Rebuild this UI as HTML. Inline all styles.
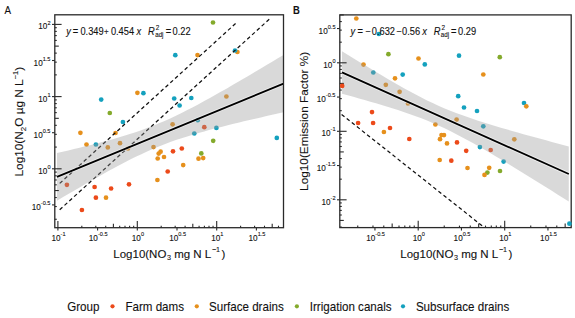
<!DOCTYPE html><html><head><meta charset="utf-8"><style>html,body{margin:0;padding:0;background:#fff;}svg{display:block;}text{font-family:"Liberation Sans", sans-serif;fill:#111;stroke:#111;stroke-width:0.1px;}</style></head><body>
<svg width="575" height="318" viewBox="0 0 575 318">
<rect x="0" y="0" width="575" height="318" fill="#fff"/>
<clipPath id="c54"><rect x="54.8" y="14.8" width="228.7" height="212.89999999999998"/></clipPath>
<g clip-path="url(#c54)">
<circle cx="213.0" cy="22.5" r="2.35" fill="#84AA2C"/>
<circle cx="237.4" cy="52.0" r="2.35" fill="#E6901C"/>
<circle cx="235.0" cy="50.5" r="2.35" fill="#14A1BE"/>
<circle cx="197.5" cy="55.1" r="2.35" fill="#E6901C"/>
<circle cx="175.3" cy="55.2" r="2.35" fill="#14A1BE"/>
<circle cx="137.4" cy="92.8" r="2.35" fill="#E6901C"/>
<circle cx="143.4" cy="93.2" r="2.35" fill="#14A1BE"/>
<circle cx="101.2" cy="99.6" r="2.35" fill="#14A1BE"/>
<circle cx="174.2" cy="98.5" r="2.35" fill="#14A1BE"/>
<circle cx="191.3" cy="98.0" r="2.35" fill="#14A1BE"/>
<circle cx="179.6" cy="105.5" r="2.35" fill="#14A1BE"/>
<circle cx="109.8" cy="113.0" r="2.35" fill="#84AA2C"/>
<circle cx="122.9" cy="122.0" r="2.35" fill="#14A1BE"/>
<circle cx="80.4" cy="132.8" r="2.35" fill="#E6901C"/>
<circle cx="115.5" cy="133.0" r="2.35" fill="#E6901C"/>
<circle cx="86.5" cy="144.5" r="2.35" fill="#E6901C"/>
<circle cx="95.9" cy="144.5" r="2.35" fill="#14A1BE"/>
<circle cx="107.8" cy="147.4" r="2.35" fill="#E6901C"/>
<circle cx="120.0" cy="143.2" r="2.35" fill="#E6901C"/>
<circle cx="128.0" cy="148.5" r="2.35" fill="#E6901C"/>
<circle cx="172.6" cy="124.3" r="2.35" fill="#E6901C"/>
<circle cx="197.7" cy="120.2" r="2.35" fill="#14A1BE"/>
<circle cx="204.3" cy="127.2" r="2.35" fill="#EC4A1A"/>
<circle cx="194.3" cy="133.5" r="2.35" fill="#14A1BE"/>
<circle cx="216.4" cy="127.9" r="2.35" fill="#14A1BE"/>
<circle cx="226.4" cy="96.5" r="2.35" fill="#E6901C"/>
<circle cx="276.8" cy="137.9" r="2.35" fill="#14A1BE"/>
<circle cx="213.2" cy="140.8" r="2.35" fill="#84AA2C"/>
<circle cx="201.3" cy="153.4" r="2.35" fill="#84AA2C"/>
<circle cx="198.5" cy="158.7" r="2.35" fill="#E6901C"/>
<circle cx="203.2" cy="158.1" r="2.35" fill="#E6901C"/>
<circle cx="153.5" cy="147.1" r="2.35" fill="#E6901C"/>
<circle cx="160.6" cy="151.7" r="2.35" fill="#E6901C"/>
<circle cx="158.7" cy="153.6" r="2.35" fill="#E6901C"/>
<circle cx="157.7" cy="158.5" r="2.35" fill="#E6901C"/>
<circle cx="164.0" cy="157.0" r="2.35" fill="#E6901C"/>
<circle cx="173.0" cy="151.3" r="2.35" fill="#EC4A1A"/>
<circle cx="181.8" cy="148.5" r="2.35" fill="#EC4A1A"/>
<circle cx="183.2" cy="165.1" r="2.35" fill="#E6901C"/>
<circle cx="167.7" cy="171.5" r="2.35" fill="#EC4A1A"/>
<circle cx="157.4" cy="180.0" r="2.35" fill="#E6901C"/>
<circle cx="129.0" cy="184.3" r="2.35" fill="#EC4A1A"/>
<circle cx="66.9" cy="184.8" r="2.35" fill="#EC4A1A"/>
<circle cx="94.6" cy="187.0" r="2.35" fill="#EC4A1A"/>
<circle cx="111.1" cy="188.5" r="2.35" fill="#EC4A1A"/>
<circle cx="95.9" cy="197.7" r="2.35" fill="#EC4A1A"/>
<circle cx="106.0" cy="197.7" r="2.35" fill="#E6901C"/>
<circle cx="81.9" cy="210.0" r="2.35" fill="#EC4A1A"/>
<line x1="59.7" y1="183.41" x2="237.2" y2="22.00" stroke="#111" stroke-width="1.25" stroke-dasharray="3.7 2.8"/>
<line x1="59.7" y1="209.76" x2="271.2" y2="17.44" stroke="#111" stroke-width="1.25" stroke-dasharray="3.7 2.8"/>
<path d="M57.00,153.10 L62.66,151.79 L68.33,150.46 L73.99,149.12 L79.65,147.75 L85.31,146.37 L90.97,144.95 L96.64,143.50 L102.30,142.02 L107.96,140.49 L113.62,138.91 L119.29,137.28 L124.95,135.57 L130.61,133.79 L136.28,131.92 L141.94,129.95 L147.60,127.87 L153.26,125.68 L158.93,123.37 L164.59,120.94 L170.25,118.39 L175.91,115.73 L181.57,112.97 L187.24,110.12 L192.90,107.19 L198.56,104.18 L204.22,101.11 L209.89,97.99 L215.55,94.83 L221.21,91.62 L226.88,88.38 L232.54,85.11 L238.20,81.82 L243.86,78.51 L249.53,75.17 L255.19,71.82 L260.85,68.46 L266.51,65.08 L272.18,61.69 L277.84,58.29 L283.50,54.89 L283.50,112.31 L277.84,113.57 L272.18,114.84 L266.51,116.11 L260.85,117.40 L255.19,118.70 L249.53,120.02 L243.86,121.35 L238.20,122.70 L232.54,124.07 L226.88,125.47 L221.21,126.89 L215.55,128.35 L209.89,129.85 L204.22,131.40 L198.56,132.99 L192.90,134.65 L187.24,136.39 L181.57,138.20 L175.91,140.10 L170.25,142.11 L164.59,144.23 L158.93,146.46 L153.26,148.82 L147.60,151.29 L141.94,153.88 L136.28,156.57 L130.61,159.37 L124.95,162.25 L119.29,165.21 L113.62,168.24 L107.96,171.32 L102.30,174.46 L96.64,177.64 L90.97,180.86 L85.31,184.11 L79.65,187.39 L73.99,190.69 L68.33,194.01 L62.66,197.35 L57.00,200.70Z" fill="#999" fill-opacity="0.37"/>
<line x1="57.0" y1="176.90" x2="283.5" y2="83.60" stroke="#fff" stroke-opacity="0.55" stroke-width="3.6"/>
<line x1="57.0" y1="176.90" x2="283.5" y2="83.60" stroke="#000" stroke-width="1.8"/>
</g>
<g font-size="9.3"><text x="66.2" y="35.4" font-style="italic" transform="matrix(1 0 0 1.08 0 -2.832)">y</text><text x="72.8" y="35.4" transform="matrix(1 0 0 1.08 0 -2.832)">=</text><text x="80.4" y="35.4" transform="matrix(1 0 0 1.08 0 -2.832)">0.349</text><text x="104.0" y="34.9" font-size="8" transform="matrix(1 0 0 1.08 0 -2.792)">+</text><text x="110.9" y="35.4" transform="matrix(1 0 0 1.08 0 -2.832)">0.454</text><text x="136.6" y="35.4" font-style="italic" transform="matrix(1 0 0 1.08 0 -2.832)">x</text><text x="148.0" y="35.4" font-style="italic" transform="matrix(1 0 0 1.08 0 -2.832)">R</text><text x="155.8" y="30.0" font-size="6.4" transform="matrix(1 0 0 1.08 0 -2.400)">2</text><text x="155.2" y="37.0" font-size="6.2" transform="matrix(1 0 0 1.08 0 -2.960)">adj</text><text x="165.8" y="35.4" transform="matrix(1 0 0 1.08 0 -2.832)">=</text><text x="172.6" y="35.4" transform="matrix(1 0 0 1.08 0 -2.832)">0.22</text></g>
<g stroke="#2a2a2a" stroke-width="1.1" fill="none">
<rect x="54.8" y="14.8" width="228.70" height="212.90" stroke-width="1.3"/>
<line x1="54.80" y1="219.27" x2="56.80" y2="219.27"/>
<line x1="54.80" y1="206.55" x2="56.80" y2="206.55"/>
<line x1="54.80" y1="197.53" x2="56.80" y2="197.53"/>
<line x1="54.80" y1="190.53" x2="58.80" y2="190.53"/>
<line x1="54.80" y1="184.82" x2="56.80" y2="184.82"/>
<line x1="54.80" y1="179.98" x2="56.80" y2="179.98"/>
<line x1="54.80" y1="175.80" x2="56.80" y2="175.80"/>
<line x1="54.80" y1="172.10" x2="56.80" y2="172.10"/>
<line x1="54.80" y1="168.80" x2="61.60" y2="168.80"/>
<line x1="54.80" y1="147.07" x2="56.80" y2="147.07"/>
<line x1="54.80" y1="134.35" x2="56.80" y2="134.35"/>
<line x1="54.80" y1="125.33" x2="56.80" y2="125.33"/>
<line x1="54.80" y1="118.33" x2="58.80" y2="118.33"/>
<line x1="54.80" y1="112.62" x2="56.80" y2="112.62"/>
<line x1="54.80" y1="107.78" x2="56.80" y2="107.78"/>
<line x1="54.80" y1="103.60" x2="56.80" y2="103.60"/>
<line x1="54.80" y1="99.90" x2="56.80" y2="99.90"/>
<line x1="54.80" y1="96.60" x2="61.60" y2="96.60"/>
<line x1="54.80" y1="74.87" x2="56.80" y2="74.87"/>
<line x1="54.80" y1="62.15" x2="56.80" y2="62.15"/>
<line x1="54.80" y1="53.13" x2="56.80" y2="53.13"/>
<line x1="54.80" y1="46.13" x2="58.80" y2="46.13"/>
<line x1="54.80" y1="40.42" x2="56.80" y2="40.42"/>
<line x1="54.80" y1="35.58" x2="56.80" y2="35.58"/>
<line x1="54.80" y1="31.40" x2="56.80" y2="31.40"/>
<line x1="54.80" y1="27.70" x2="56.80" y2="27.70"/>
<line x1="54.80" y1="24.40" x2="61.60" y2="24.40"/>
<line x1="52.00" y1="204.90" x2="54.80" y2="204.90"/>
<line x1="52.00" y1="168.80" x2="54.80" y2="168.80"/>
<line x1="52.00" y1="132.70" x2="54.80" y2="132.70"/>
<line x1="52.00" y1="96.60" x2="54.80" y2="96.60"/>
<line x1="52.00" y1="60.50" x2="54.80" y2="60.50"/>
<line x1="52.00" y1="24.40" x2="54.80" y2="24.40"/>
<line x1="57.90" y1="227.70" x2="57.90" y2="220.90"/>
<line x1="81.80" y1="227.70" x2="81.80" y2="225.70"/>
<line x1="95.78" y1="227.70" x2="95.78" y2="225.70"/>
<line x1="105.70" y1="227.70" x2="105.70" y2="225.70"/>
<line x1="113.40" y1="227.70" x2="113.40" y2="223.70"/>
<line x1="119.69" y1="227.70" x2="119.69" y2="225.70"/>
<line x1="125.00" y1="227.70" x2="125.00" y2="225.70"/>
<line x1="129.61" y1="227.70" x2="129.61" y2="225.70"/>
<line x1="133.67" y1="227.70" x2="133.67" y2="225.70"/>
<line x1="137.30" y1="227.70" x2="137.30" y2="220.90"/>
<line x1="161.20" y1="227.70" x2="161.20" y2="225.70"/>
<line x1="175.18" y1="227.70" x2="175.18" y2="225.70"/>
<line x1="185.10" y1="227.70" x2="185.10" y2="225.70"/>
<line x1="192.80" y1="227.70" x2="192.80" y2="223.70"/>
<line x1="199.09" y1="227.70" x2="199.09" y2="225.70"/>
<line x1="204.40" y1="227.70" x2="204.40" y2="225.70"/>
<line x1="209.01" y1="227.70" x2="209.01" y2="225.70"/>
<line x1="213.07" y1="227.70" x2="213.07" y2="225.70"/>
<line x1="216.70" y1="227.70" x2="216.70" y2="220.90"/>
<line x1="240.60" y1="227.70" x2="240.60" y2="225.70"/>
<line x1="254.58" y1="227.70" x2="254.58" y2="225.70"/>
<line x1="264.50" y1="227.70" x2="264.50" y2="225.70"/>
<line x1="272.20" y1="227.70" x2="272.20" y2="223.70"/>
<line x1="278.49" y1="227.70" x2="278.49" y2="225.70"/>
<line x1="57.90" y1="230.50" x2="57.90" y2="227.70"/>
<line x1="97.60" y1="230.50" x2="97.60" y2="227.70"/>
<line x1="137.30" y1="230.50" x2="137.30" y2="227.70"/>
<line x1="177.00" y1="230.50" x2="177.00" y2="227.70"/>
<line x1="216.70" y1="230.50" x2="216.70" y2="227.70"/>
<line x1="256.40" y1="230.50" x2="256.40" y2="227.70"/>
</g>
<text x="50.50" y="210.00" text-anchor="end" font-size="8.2" transform="matrix(1 0 0 1.08 0 -16.800)">10<tspan font-size="5.6" dy="-4.6">-0.5</tspan></text>
<text x="50.50" y="173.90" text-anchor="end" font-size="8.2" transform="matrix(1 0 0 1.08 0 -13.912)">10<tspan font-size="5.6" dy="-4.6">0</tspan></text>
<text x="50.50" y="137.80" text-anchor="end" font-size="8.2" transform="matrix(1 0 0 1.08 0 -11.024)">10<tspan font-size="5.6" dy="-4.6">0.5</tspan></text>
<text x="50.50" y="101.70" text-anchor="end" font-size="8.2" transform="matrix(1 0 0 1.08 0 -8.136)">10<tspan font-size="5.6" dy="-4.6">1</tspan></text>
<text x="50.50" y="65.60" text-anchor="end" font-size="8.2" transform="matrix(1 0 0 1.08 0 -5.248)">10<tspan font-size="5.6" dy="-4.6">1.5</tspan></text>
<text x="50.50" y="29.50" text-anchor="end" font-size="8.2" transform="matrix(1 0 0 1.08 0 -2.360)">10<tspan font-size="5.6" dy="-4.6">2</tspan></text>
<text x="58.50" y="241.2" text-anchor="middle" font-size="8.2" transform="matrix(1 0 0 1.08 0 -19.296)">10<tspan font-size="5.6" dy="-4.6">-1</tspan></text>
<text x="98.20" y="241.2" text-anchor="middle" font-size="8.2" transform="matrix(1 0 0 1.08 0 -19.296)">10<tspan font-size="5.6" dy="-4.6">-0.5</tspan></text>
<text x="137.90" y="241.2" text-anchor="middle" font-size="8.2" transform="matrix(1 0 0 1.08 0 -19.296)">10<tspan font-size="5.6" dy="-4.6">0</tspan></text>
<text x="177.60" y="241.2" text-anchor="middle" font-size="8.2" transform="matrix(1 0 0 1.08 0 -19.296)">10<tspan font-size="5.6" dy="-4.6">0.5</tspan></text>
<text x="217.30" y="241.2" text-anchor="middle" font-size="8.2" transform="matrix(1 0 0 1.08 0 -19.296)">10<tspan font-size="5.6" dy="-4.6">1</tspan></text>
<text x="257.00" y="241.2" text-anchor="middle" font-size="8.2" transform="matrix(1 0 0 1.08 0 -19.296)">10<tspan font-size="5.6" dy="-4.6">1.5</tspan></text>
<clipPath id="c339"><rect x="339.8" y="14.9" width="231.40000000000003" height="212.7"/></clipPath>
<g clip-path="url(#c339)">
<circle cx="356.3" cy="18.5" r="2.35" fill="#E6901C"/>
<circle cx="378.9" cy="34.0" r="2.35" fill="#14A1BE"/>
<circle cx="388.4" cy="54.2" r="2.35" fill="#84AA2C"/>
<circle cx="363.5" cy="64.6" r="2.35" fill="#E6901C"/>
<circle cx="373.3" cy="72.5" r="2.35" fill="#14A1BE"/>
<circle cx="385.8" cy="84.8" r="2.35" fill="#E6901C"/>
<circle cx="395.0" cy="78.3" r="2.35" fill="#E6901C"/>
<circle cx="402.7" cy="74.6" r="2.35" fill="#14A1BE"/>
<circle cx="399.6" cy="91.8" r="2.35" fill="#E6901C"/>
<circle cx="408.0" cy="103.5" r="2.35" fill="#E6901C"/>
<circle cx="418.5" cy="58.5" r="2.35" fill="#E6901C"/>
<circle cx="424.8" cy="64.4" r="2.35" fill="#14A1BE"/>
<circle cx="459.0" cy="55.7" r="2.35" fill="#14A1BE"/>
<circle cx="499.8" cy="57.2" r="2.35" fill="#84AA2C"/>
<circle cx="483.3" cy="74.5" r="2.35" fill="#E6901C"/>
<circle cx="458.2" cy="96.2" r="2.35" fill="#14A1BE"/>
<circle cx="464.0" cy="107.5" r="2.35" fill="#14A1BE"/>
<circle cx="477.0" cy="111.0" r="2.35" fill="#14A1BE"/>
<circle cx="524.0" cy="103.0" r="2.35" fill="#14A1BE"/>
<circle cx="526.3" cy="106.3" r="2.35" fill="#E6901C"/>
<circle cx="456.6" cy="119.6" r="2.35" fill="#E6901C"/>
<circle cx="483.3" cy="126.3" r="2.35" fill="#14A1BE"/>
<circle cx="435.4" cy="124.5" r="2.35" fill="#E6901C"/>
<circle cx="514.3" cy="139.3" r="2.35" fill="#E6901C"/>
<circle cx="358.1" cy="123.0" r="2.35" fill="#EC4A1A"/>
<circle cx="372.0" cy="112.1" r="2.35" fill="#EC4A1A"/>
<circle cx="373.1" cy="123.0" r="2.35" fill="#EC4A1A"/>
<circle cx="383.9" cy="132.0" r="2.35" fill="#E6901C"/>
<circle cx="390.0" cy="128.0" r="2.35" fill="#EC4A1A"/>
<circle cx="409.3" cy="139.0" r="2.35" fill="#EC4A1A"/>
<circle cx="441.5" cy="135.1" r="2.35" fill="#E6901C"/>
<circle cx="444.0" cy="135.1" r="2.35" fill="#E6901C"/>
<circle cx="440.0" cy="139.2" r="2.35" fill="#E6901C"/>
<circle cx="447.0" cy="143.4" r="2.35" fill="#E6901C"/>
<circle cx="457.0" cy="142.4" r="2.35" fill="#EC4A1A"/>
<circle cx="466.2" cy="150.8" r="2.35" fill="#EC4A1A"/>
<circle cx="479.9" cy="147.1" r="2.35" fill="#14A1BE"/>
<circle cx="490.7" cy="150.0" r="2.35" fill="#EC4A1A"/>
<circle cx="503.6" cy="161.6" r="2.35" fill="#14A1BE"/>
<circle cx="500.0" cy="171.0" r="2.35" fill="#84AA2C"/>
<circle cx="439.7" cy="160.0" r="2.35" fill="#E6901C"/>
<circle cx="451.3" cy="160.7" r="2.35" fill="#EC4A1A"/>
<circle cx="467.5" cy="168.0" r="2.35" fill="#E6901C"/>
<circle cx="489.2" cy="167.8" r="2.35" fill="#E6901C"/>
<circle cx="487.4" cy="172.6" r="2.35" fill="#84AA2C"/>
<circle cx="484.5" cy="174.9" r="2.35" fill="#E6901C"/>
<line x1="341.6" y1="114.48" x2="483.5" y2="226.85" stroke="#111" stroke-width="1.25" stroke-dasharray="3.7 2.8"/>
<path d="M342.00,51.14 L347.67,54.66 L353.34,58.16 L359.01,61.65 L364.68,65.12 L370.35,68.56 L376.02,71.98 L381.69,75.37 L387.36,78.72 L393.03,82.02 L398.70,85.28 L404.37,88.47 L410.04,91.59 L415.71,94.62 L421.38,97.56 L427.05,100.39 L432.72,103.10 L438.39,105.69 L444.06,108.15 L449.73,110.50 L455.40,112.72 L461.07,114.84 L466.74,116.87 L472.41,118.82 L478.08,120.69 L483.75,122.51 L489.42,124.27 L495.09,126.00 L500.76,127.68 L506.43,129.34 L512.10,130.97 L517.77,132.57 L523.44,134.16 L529.11,135.73 L534.78,137.29 L540.45,138.84 L546.12,140.37 L551.79,141.89 L557.46,143.41 L563.13,144.92 L568.80,146.42 L568.80,201.58 L563.13,198.00 L557.46,194.43 L551.79,190.87 L546.12,187.31 L540.45,183.76 L534.78,180.23 L529.11,176.71 L523.44,173.20 L517.77,169.71 L512.10,166.23 L506.43,162.78 L500.76,159.36 L495.09,155.96 L489.42,152.61 L483.75,149.29 L478.08,146.03 L472.41,142.82 L466.74,139.69 L461.07,136.64 L455.40,133.68 L449.73,130.82 L444.06,128.09 L438.39,125.47 L432.72,122.98 L427.05,120.61 L421.38,118.36 L415.71,116.22 L410.04,114.17 L404.37,112.21 L398.70,110.32 L393.03,108.50 L387.36,106.72 L381.69,104.99 L376.02,103.30 L370.35,101.64 L364.68,100.00 L359.01,98.39 L353.34,96.80 L347.67,95.22 L342.00,93.66Z" fill="#999" fill-opacity="0.37"/>
<line x1="342.0" y1="72.40" x2="568.8" y2="174.00" stroke="#fff" stroke-opacity="0.55" stroke-width="3.6"/>
<line x1="342.0" y1="72.40" x2="568.8" y2="174.00" stroke="#000" stroke-width="1.8"/>
</g>
<g font-size="9.3"><text x="350.6" y="35.0" font-style="italic" transform="matrix(1 0 0 1.08 0 -2.800)">y</text><text x="357.4" y="35.0" transform="matrix(1 0 0 1.08 0 -2.800)">=</text><text x="365.6" y="35.0" transform="matrix(1 0 0 1.08 0 -2.800)">−</text><text x="371.8" y="35.0" transform="matrix(1 0 0 1.08 0 -2.800)">0.632</text><text x="396.4" y="35.0" transform="matrix(1 0 0 1.08 0 -2.800)">−</text><text x="402.0" y="35.0" transform="matrix(1 0 0 1.08 0 -2.800)">0.56</text><text x="422.2" y="35.0" font-style="italic" transform="matrix(1 0 0 1.08 0 -2.800)">x</text><text x="433.8" y="35.0" font-style="italic" transform="matrix(1 0 0 1.08 0 -2.800)">R</text><text x="441.4" y="29.8" font-size="6.4" transform="matrix(1 0 0 1.08 0 -2.384)">2</text><text x="440.8" y="36.8" font-size="6.2" transform="matrix(1 0 0 1.08 0 -2.944)">adj</text><text x="451.0" y="35.0" transform="matrix(1 0 0 1.08 0 -2.800)">=</text><text x="458.0" y="35.0" transform="matrix(1 0 0 1.08 0 -2.800)">0.29</text></g>
<g stroke="#2a2a2a" stroke-width="1.1" fill="none">
<rect x="339.8" y="14.9" width="231.40" height="212.70" stroke-width="1.3"/>
<line x1="339.80" y1="227.06" x2="341.80" y2="227.06"/>
<line x1="339.80" y1="220.42" x2="343.80" y2="220.42"/>
<line x1="339.80" y1="215.00" x2="341.80" y2="215.00"/>
<line x1="339.80" y1="210.41" x2="341.80" y2="210.41"/>
<line x1="339.80" y1="206.44" x2="341.80" y2="206.44"/>
<line x1="339.80" y1="202.93" x2="341.80" y2="202.93"/>
<line x1="339.80" y1="199.80" x2="346.60" y2="199.80"/>
<line x1="339.80" y1="179.18" x2="341.80" y2="179.18"/>
<line x1="339.80" y1="167.12" x2="341.80" y2="167.12"/>
<line x1="339.80" y1="158.56" x2="341.80" y2="158.56"/>
<line x1="339.80" y1="151.92" x2="343.80" y2="151.92"/>
<line x1="339.80" y1="146.50" x2="341.80" y2="146.50"/>
<line x1="339.80" y1="141.91" x2="341.80" y2="141.91"/>
<line x1="339.80" y1="137.94" x2="341.80" y2="137.94"/>
<line x1="339.80" y1="134.43" x2="341.80" y2="134.43"/>
<line x1="339.80" y1="131.30" x2="346.60" y2="131.30"/>
<line x1="339.80" y1="110.68" x2="341.80" y2="110.68"/>
<line x1="339.80" y1="98.62" x2="341.80" y2="98.62"/>
<line x1="339.80" y1="90.06" x2="341.80" y2="90.06"/>
<line x1="339.80" y1="83.42" x2="343.80" y2="83.42"/>
<line x1="339.80" y1="78.00" x2="341.80" y2="78.00"/>
<line x1="339.80" y1="73.41" x2="341.80" y2="73.41"/>
<line x1="339.80" y1="69.44" x2="341.80" y2="69.44"/>
<line x1="339.80" y1="65.93" x2="341.80" y2="65.93"/>
<line x1="339.80" y1="62.80" x2="346.60" y2="62.80"/>
<line x1="339.80" y1="42.18" x2="341.80" y2="42.18"/>
<line x1="339.80" y1="30.12" x2="341.80" y2="30.12"/>
<line x1="339.80" y1="21.56" x2="341.80" y2="21.56"/>
<line x1="339.80" y1="14.92" x2="343.80" y2="14.92"/>
<line x1="337.00" y1="199.80" x2="339.80" y2="199.80"/>
<line x1="337.00" y1="165.55" x2="339.80" y2="165.55"/>
<line x1="337.00" y1="131.30" x2="339.80" y2="131.30"/>
<line x1="337.00" y1="97.05" x2="339.80" y2="97.05"/>
<line x1="337.00" y1="62.80" x2="339.80" y2="62.80"/>
<line x1="337.00" y1="28.55" x2="339.80" y2="28.55"/>
<line x1="357.74" y1="227.60" x2="357.74" y2="225.60"/>
<line x1="372.97" y1="227.60" x2="372.97" y2="225.60"/>
<line x1="383.78" y1="227.60" x2="383.78" y2="225.60"/>
<line x1="392.16" y1="227.60" x2="392.16" y2="223.60"/>
<line x1="399.01" y1="227.60" x2="399.01" y2="225.60"/>
<line x1="404.80" y1="227.60" x2="404.80" y2="225.60"/>
<line x1="409.82" y1="227.60" x2="409.82" y2="225.60"/>
<line x1="414.24" y1="227.60" x2="414.24" y2="225.60"/>
<line x1="418.20" y1="227.60" x2="418.20" y2="220.80"/>
<line x1="444.24" y1="227.60" x2="444.24" y2="225.60"/>
<line x1="459.47" y1="227.60" x2="459.47" y2="225.60"/>
<line x1="470.28" y1="227.60" x2="470.28" y2="225.60"/>
<line x1="478.66" y1="227.60" x2="478.66" y2="223.60"/>
<line x1="485.51" y1="227.60" x2="485.51" y2="225.60"/>
<line x1="491.30" y1="227.60" x2="491.30" y2="225.60"/>
<line x1="496.32" y1="227.60" x2="496.32" y2="225.60"/>
<line x1="500.74" y1="227.60" x2="500.74" y2="225.60"/>
<line x1="504.70" y1="227.60" x2="504.70" y2="220.80"/>
<line x1="530.74" y1="227.60" x2="530.74" y2="225.60"/>
<line x1="545.97" y1="227.60" x2="545.97" y2="225.60"/>
<line x1="556.78" y1="227.60" x2="556.78" y2="225.60"/>
<line x1="565.16" y1="227.60" x2="565.16" y2="223.60"/>
<line x1="374.95" y1="230.40" x2="374.95" y2="227.60"/>
<line x1="418.20" y1="230.40" x2="418.20" y2="227.60"/>
<line x1="461.45" y1="230.40" x2="461.45" y2="227.60"/>
<line x1="504.70" y1="230.40" x2="504.70" y2="227.60"/>
<line x1="547.95" y1="230.40" x2="547.95" y2="227.60"/>
</g>
<text x="335.50" y="204.90" text-anchor="end" font-size="8.2" transform="matrix(1 0 0 1.08 0 -16.392)">10<tspan font-size="5.6" dy="-4.6">-2</tspan></text>
<text x="335.50" y="170.65" text-anchor="end" font-size="8.2" transform="matrix(1 0 0 1.08 0 -13.652)">10<tspan font-size="5.6" dy="-4.6">-1.5</tspan></text>
<text x="335.50" y="136.40" text-anchor="end" font-size="8.2" transform="matrix(1 0 0 1.08 0 -10.912)">10<tspan font-size="5.6" dy="-4.6">-1</tspan></text>
<text x="335.50" y="102.15" text-anchor="end" font-size="8.2" transform="matrix(1 0 0 1.08 0 -8.172)">10<tspan font-size="5.6" dy="-4.6">-0.5</tspan></text>
<text x="335.50" y="67.90" text-anchor="end" font-size="8.2" transform="matrix(1 0 0 1.08 0 -5.432)">10<tspan font-size="5.6" dy="-4.6">0</tspan></text>
<text x="335.50" y="33.65" text-anchor="end" font-size="8.2" transform="matrix(1 0 0 1.08 0 -2.692)">10<tspan font-size="5.6" dy="-4.6">0.5</tspan></text>
<text x="375.55" y="241.2" text-anchor="middle" font-size="8.2" transform="matrix(1 0 0 1.08 0 -19.296)">10<tspan font-size="5.6" dy="-4.6">-0.5</tspan></text>
<text x="418.80" y="241.2" text-anchor="middle" font-size="8.2" transform="matrix(1 0 0 1.08 0 -19.296)">10<tspan font-size="5.6" dy="-4.6">0</tspan></text>
<text x="462.05" y="241.2" text-anchor="middle" font-size="8.2" transform="matrix(1 0 0 1.08 0 -19.296)">10<tspan font-size="5.6" dy="-4.6">0.5</tspan></text>
<text x="505.30" y="241.2" text-anchor="middle" font-size="8.2" transform="matrix(1 0 0 1.08 0 -19.296)">10<tspan font-size="5.6" dy="-4.6">1</tspan></text>
<text x="548.55" y="241.2" text-anchor="middle" font-size="8.2" transform="matrix(1 0 0 1.08 0 -19.296)">10<tspan font-size="5.6" dy="-4.6">1.5</tspan></text>
<circle cx="342.2" cy="85.9" r="2.35" fill="#EC4A1A"/>
<circle cx="569.4" cy="223.7" r="2.35" fill="#14A1BE"/>
<text transform="translate(4.5,13.5) scale(1,1.06)" font-size="9.8" stroke="#111" stroke-width="0.3">A</text>
<text transform="translate(293.0,13.5) scale(1,1.2)" font-size="9.4" font-weight="bold">B</text>
<text y="257.8" font-size="11.5"><tspan x="113.3">Log10(NO</tspan><tspan x="167.0" y="260.0" font-size="7.2">3</tspan><tspan x="174.2" y="257.8" font-size="11.5">mg N L</tspan><tspan x="211.9" y="252.0" font-size="7.2">−1</tspan><tspan x="221.4" y="257.8">)</tspan></text>
<text y="257.8" font-size="11.5"><tspan x="400.3">Log10(NO</tspan><tspan x="454.0" y="260.0" font-size="7.2">3</tspan><tspan x="461.2" y="257.8" font-size="11.5">mg N L</tspan><tspan x="498.9" y="252.0" font-size="7.2">−1</tspan><tspan x="508.4" y="257.8">)</tspan></text>
<text transform="translate(23.2,121.6) rotate(-90)" text-anchor="middle" font-size="11.8">Log10(N<tspan font-size="8" dy="2.8">2</tspan><tspan dy="-2.8">O µg N L</tspan><tspan font-size="7.6" dy="-5.3">−1</tspan><tspan dy="5.3">)</tspan></text>
<text transform="translate(308.4,121.4) rotate(-90)" text-anchor="middle" font-size="11.8">Log10(Emission Factor %)</text>
<g font-size="11.6">
<text x="67.2" y="310.9" transform="matrix(1 0 0 1.08 0 -24.872)">Group</text>
<circle cx="112.5" cy="306.3" r="2.1" fill="#EC4A1A"/>
<text x="125.4" y="310.9" transform="matrix(1 0 0 1.08 0 -24.872)">Farm dams</text>
<circle cx="196.8" cy="306.3" r="2.1" fill="#E6901C"/>
<text x="209.0" y="310.9" transform="matrix(1 0 0 1.08 0 -24.872)">Surface drains</text>
<circle cx="296.9" cy="306.3" r="2.1" fill="#84AA2C"/>
<text x="309.8" y="310.9" transform="matrix(1 0 0 1.08 0 -24.872)">Irrigation canals</text>
<circle cx="403.0" cy="306.3" r="2.1" fill="#14A1BE"/>
<text x="415.9" y="310.9" transform="matrix(1 0 0 1.08 0 -24.872)">Subsurface drains</text>
</g>
</svg></body></html>
